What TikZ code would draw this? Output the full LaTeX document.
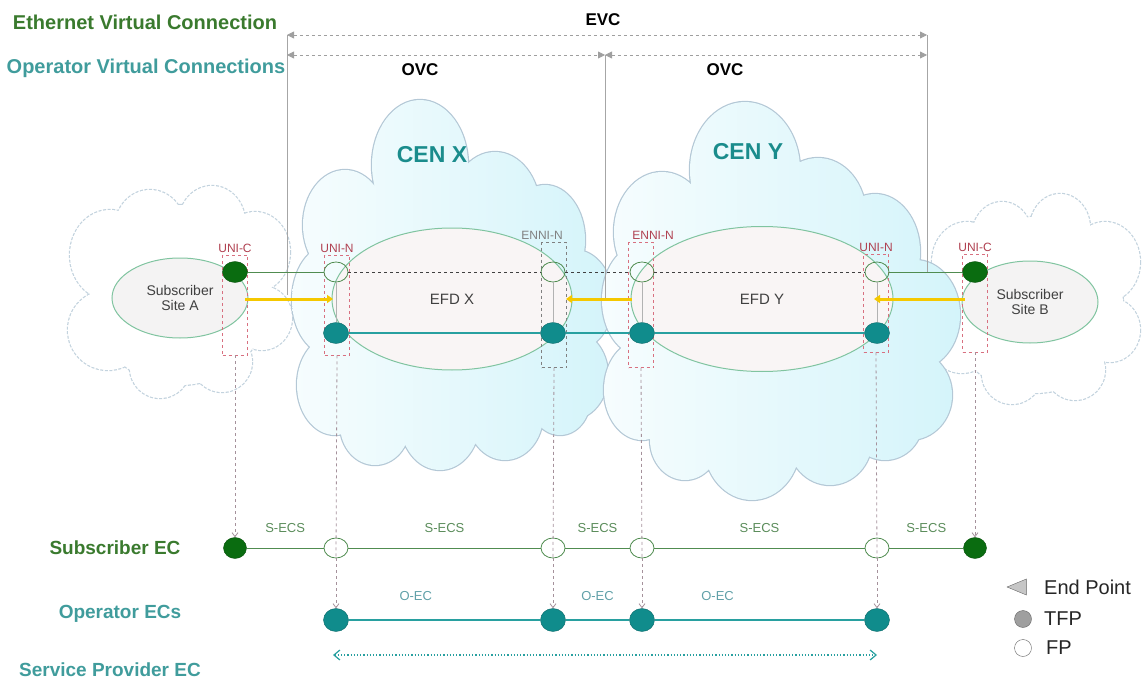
\documentclass[tikz,border=0pt]{standalone}
\usepackage{fontspec}
\setmainfont{Liberation Sans}
\usetikzlibrary{shapes.geometric, arrows.meta, positioning}
\definecolor{evcgreen}{RGB}{58,122,46}
\definecolor{ovcteal}{RGB}{64,156,156}
\definecolor{centeal}{RGB}{26,140,140}
\definecolor{unired}{RGB}{176,64,80}
\definecolor{tfpgreen}{RGB}{10,108,16}
\definecolor{tfpteal}{RGB}{16,140,140}
\definecolor{linegreen}{RGB}{80,140,80}
\definecolor{lineteal}{RGB}{40,160,160}
\definecolor{cloudcyan}{RGB}{212,244,250}
\definecolor{cloudedge}{RGB}{180,200,214}
\definecolor{sitefill}{RGB}{244,243,243}
\definecolor{efdfill}{RGB}{249,245,245}
\definecolor{efdedge}{RGB}{128,196,160}
\definecolor{linkyellow}{RGB}{245,200,0}
\definecolor{dropgray}{RGB}{165,145,155}
\definecolor{rectpink}{RGB}{216,112,128}
\definecolor{secgreen}{RGB}{90,140,90}
\definecolor{oecteal}{RGB}{96,160,168}

\def\subalist{180/295/90/90, 110/255/40/45, 150/228/35/38, 212/222/33/36, 255/252/35/40, 262/318/30/32, 108/330/40/40, 160/368/30/30, 222/362/30/30}
\def\subblist{1035/305/88/88, 967/262/35/40, 1002/236/30/34, 1060/228/30/34, 1105/262/35/40, 1110/330/30/32, 962/340/33/33, 1012/374/30/30, 1075/370/30/30}
\def\cenxlist{420/165/48/65, 345/225/42/55, 495/210/45/58, 545/240/40/55, 575/300/38/50, 570/375/38/45, 452/305/125/125, 330/300/38/55, 335/385/38/50, 375/425/35/40, 440/420/40/50, 505/415/38/45, 560/400/30/35}
\def\cenylist{745/170/55/68, 662/232/48/60, 818/215/48/57, 875/252/45/58, 915/315/45/55, 910/395/42/45, 775/320/148/145, 640/300/38/55, 642/390/38/50, 685/440/35/40, 752/445/48/55, 830/440/42/45, 885/420/38/40}

\begin{document}
\begin{tikzpicture}[
    x=1pt, y=-1pt,
    toplbl/.style={font=\fontsize{20}{21}\selectfont\bfseries},
    rowlbl/.style={font=\fontsize{19}{20}\selectfont\bfseries},
    spanarrow/.style={dashed, draw=gray!75, line width=0.8pt, {Triangle[length=7pt,width=7pt]}-{Triangle[length=7pt,width=7pt]}},
    vline/.style={draw=gray!70, line width=0.7pt},
    cenlbl/.style={font=\fontsize{23}{24}\selectfont\bfseries, text=centeal},
    site/.style={ellipse, draw=efdedge, line width=1pt, fill=sitefill, align=center, inner sep=0pt, font=\fontsize{14}{15}\selectfont, text=darkgray},
    tfp/.style={ellipse, draw=#1!75!black, fill=#1, minimum width=25pt, minimum height=21pt, inner sep=0pt},
    fp/.style={ellipse, draw=linegreen, line width=0.8pt, minimum width=24pt, minimum height=20pt, inner sep=0pt},
    iface/.style={draw=#1, dashed, line width=0.8pt, minimum width=25pt, inner sep=0pt},
    ifacelbl/.style={font=\fontsize{12}{12}\selectfont, text=#1, inner sep=1pt},
    sline/.style={draw=linegreen, line width=0.9pt},
    dline/.style={draw=darkgray, dashed, line width=0.8pt},
    tline/.style={draw=lineteal, line width=2.2pt},
    link/.style={draw=gray!60, line width=0.6pt},
    yarrow/.style={draw=linkyellow, line width=3pt, -{Triangle[length=6pt,width=8pt]}},
    drop/.style={draw=dropgray, dashed, line width=0.8pt},
    droparrow/.style={drop, -{Straight Barb[length=4pt,width=6pt]}},
    seglbl/.style={font=\fontsize{13}{13}\selectfont, text=#1},
    legtxt/.style={font=\fontsize{20}{20}\selectfont, text=black!85, inner sep=1pt}
]
    \useasboundingbox (0,0) rectangle (1144,682);

    % clouds (outline under, shading on top)
    \draw[cloudedge!80, line width=2.4pt, dash pattern=on 3pt off 1.5pt] foreach \cx/\cy/\rx/\ry in \subalist {(\cx,\cy) ellipse[x radius=\rx, y radius=\ry]};
    \fill[white] foreach \cx/\cy/\rx/\ry in \subalist {(\cx,\cy) ellipse[x radius=\rx, y radius=\ry]};
    \draw[cloudedge!80, line width=2.4pt, dash pattern=on 3pt off 1.5pt] foreach \cx/\cy/\rx/\ry in \subblist {(\cx,\cy) ellipse[x radius=\rx, y radius=\ry]};
    \fill[white] foreach \cx/\cy/\rx/\ry in \subblist {(\cx,\cy) ellipse[x radius=\rx, y radius=\ry]};
    \draw[cloudedge, line width=2.4pt] foreach \cx/\cy/\rx/\ry in \cenxlist {(\cx,\cy) ellipse[x radius=\rx, y radius=\ry]};
    \shade[left color=cloudcyan!20, right color=cloudcyan] foreach \cx/\cy/\rx/\ry in \cenxlist {(\cx,\cy) ellipse[x radius=\rx, y radius=\ry]};
    \draw[cloudedge, line width=2.4pt] foreach \cx/\cy/\rx/\ry in \cenylist {(\cx,\cy) ellipse[x radius=\rx, y radius=\ry]};
    \shade[left color=cloudcyan!20, right color=cloudcyan] foreach \cx/\cy/\rx/\ry in \cenylist {(\cx,\cy) ellipse[x radius=\rx, y radius=\ry]};

    \node[cenlbl] (cenx) at (432,155) {CEN X};
    \node[cenlbl] (ceny) at (748,152) {CEN Y};

    % connection spans
    \node[toplbl, text=evcgreen] (evclbl) at (145,22) {Ethernet Virtual Connection};
    \node[toplbl, text=ovcteal] (ovclbl) at (146,68) {Operator Virtual Connections};
    \coordinate (evcl) at (287,35);
    \coordinate (evcr) at (927,35);
    \coordinate (ovcl) at (287,55);
    \coordinate (ovcm) at (605,55);
    \coordinate (ovcr) at (927,55);
    \draw[vline] (evcl) -- ++(0,260);
    \draw[vline] (ovcm) -- ++(0,243);
    \draw[vline] (evcr) -- ++(0,237);
    \draw[spanarrow] (evcl) -- (evcr);
    \draw[spanarrow] (ovcl) -- (ovcm);
    \draw[spanarrow] (ovcm) -- (ovcr);
    \node[font=\fontsize{17}{17}\selectfont\bfseries] (evc) at (603,20) {EVC};
    \node[font=\fontsize{17}{17}\selectfont\bfseries] (ovcx) at (420,70) {OVC};
    \node[font=\fontsize{17}{17}\selectfont\bfseries] (ovcy) at (725,70) {OVC};

    % sites and EFDs
    \node[site, minimum width=136pt, minimum height=80pt] (sitea) at (180,298) {Subscriber\\Site A};
    \node[site, minimum width=136pt, minimum height=82pt] (siteb) at (1030,302) {Subscriber\\Site B};
    \node[site, fill=efdfill, minimum width=240pt, minimum height=142pt, font=\fontsize{15}{15}\selectfont] (efdx) at (452,299) {EFD X};
    \node[site, fill=efdfill, minimum width=262pt, minimum height=145pt, font=\fontsize{15}{15}\selectfont] (efdy) at (762,299) {EFD Y};

    % interfaces
    \node[iface=rectpink, minimum height=100pt] (rua) at (235,305) {};
    \node[iface=rectpink, minimum height=100pt] (rux) at (337,305) {};
    \node[iface=gray, minimum height=125pt] (rex) at (554,305) {};
    \node[iface=rectpink, minimum height=125pt] (rey) at (641,305) {};
    \node[iface=rectpink, minimum height=98pt] (ruy) at (876,303) {};
    \node[iface=rectpink, minimum height=98pt] (rub) at (975,303) {};
    \node[ifacelbl=unired, above=1pt of rua] {UNI-C};
    \node[ifacelbl=unired, above=1pt of rux] {UNI-N};
    \node[ifacelbl=gray, above=1pt of rex, xshift=-12pt] {ENNI-N};
    \node[ifacelbl=unired, above=1pt of rey, xshift=12pt] {ENNI-N};
    \node[ifacelbl=unired, above=1pt of ruy] {UNI-N};
    \node[ifacelbl=unired, above=1pt of rub] {UNI-C};

    % flow points
    \node[tfp=tfpgreen] (uca) at (235,272) {};
    \node[fp] (unx) at (336,272) {};
    \node[fp] (enx) at (553,272) {};
    \node[fp] (eny) at (642,272) {};
    \node[fp] (uny) at (877,272) {};
    \node[tfp=tfpgreen] (ucb) at (975,272) {};
    \node[tfp=tfpteal] (tnx) at (336,333) {};
    \node[tfp=tfpteal] (tex) at (553,333) {};
    \node[tfp=tfpteal] (tey) at (642,333) {};
    \node[tfp=tfpteal] (tny) at (877,333) {};

    \draw[sline] (uca) -- (unx);
    \draw[dline] (unx) -- (enx) -- (eny) -- (uny);
    \draw[sline] (uny) -- (ucb);
    \draw[tline] (tnx) -- (tex) -- (tey) -- (tny);
    \draw[link] (unx) -- (tnx);
    \draw[link] (enx) -- (tex);
    \draw[link] (eny) -- (tey);
    \draw[link] (uny) -- (tny);

    % links between sites and CENs
    \coordinate (ya1) at (245,299);
    \coordinate (ya2) at (333,299);
    \coordinate (yb1) at (566,299);
    \coordinate (yb2) at (632,299);
    \coordinate (yc1) at (874,299);
    \coordinate (yc2) at (965,299);
    \draw[yarrow] (ya1) -- (ya2);
    \draw[yarrow] (yb2) -- (yb1);
    \draw[yarrow] (yc2) -- (yc1);

    % Subscriber EC
    \node[rowlbl, text=evcgreen] (seclbl) at (115,548) {Subscriber EC};
    \node[tfp=tfpgreen, minimum width=23pt, minimum height=21pt] (sa) at (235,548) {};
    \node[fp] (sux) at (336,548) {};
    \node[fp] (sex) at (553,548) {};
    \node[fp] (sey) at (642,548) {};
    \node[fp] (suy) at (877,548) {};
    \node[tfp=tfpgreen, minimum width=23pt, minimum height=21pt] (sb) at (975,548) {};
    \draw[sline] (sa) -- node[midway, above=12pt, seglbl=secgreen] {S-ECS} (sux)
        -- node[midway, above=12pt, seglbl=secgreen] {S-ECS} (sex)
        -- node[midway, above=12pt, seglbl=secgreen] {S-ECS} (sey)
        -- node[midway, above=12pt, seglbl=secgreen] {S-ECS} (suy)
        -- node[midway, above=12pt, seglbl=secgreen] {S-ECS} (sb);

    % Operator ECs
    \node[rowlbl, text=ovcteal] (oeclbl) at (120,614) {Operator ECs};
    \node[tfp=tfpteal, minimum height=23pt] (oux) at (336,620) {};
    \node[tfp=tfpteal, minimum height=23pt] (oex) at (553,620) {};
    \node[tfp=tfpteal, minimum height=23pt] (oey) at (642,620) {};
    \node[tfp=tfpteal, minimum height=23pt] (ouy) at (877,620) {};
    \draw[tline] (oux) -- node[pos=0.35, above=15pt, seglbl=oecteal] {O-EC} (oex)
        -- node[midway, above=15pt, seglbl=oecteal] {O-EC} (oey)
        -- node[pos=0.3, above=15pt, seglbl=oecteal] {O-EC} (ouy);

    % drops
    \draw[droparrow] (rua.south) -- (sa.north);
    \draw[droparrow] (rub.south) -- (sb.north);
    \draw[drop] (rux.south) -- (sux.south);
    \draw[drop] (rex.south) -- (sex.south);
    \draw[drop] (rey.south) -- (sey.south);
    \draw[drop] (ruy.south) -- (suy.south);
    \draw[droparrow] (sux.south) -- (oux.north);
    \draw[droparrow] (sex.south) -- (oex.north);
    \draw[droparrow] (sey.south) -- (oey.north);
    \draw[droparrow] (suy.south) -- (ouy.north);

    % Service Provider EC
    \node[rowlbl, text=ovcteal] (speclbl) at (110,670) {Service Provider EC};
    \coordinate (spa) at (333,655);
    \coordinate (spb) at (877,655);
    \draw[draw=lineteal, line width=1.2pt, dotted, {Straight Barb[length=6pt,width=10pt]}-{Straight Barb[length=6pt,width=10pt]}] (spa) -- (spb);

    % legend
    \node[isosceles triangle, shape border rotate=180, draw=gray!80!black, fill=gray!45, minimum height=16pt, minimum width=16pt, inner sep=0pt] (lgep) at (1021,587) {};
    \node[legtxt, anchor=west] (lgeptxt) at (1043,587) {End Point};
    \node[circle, draw=gray!80!black, fill=gray!75, minimum size=17pt, inner sep=0pt] (lgtfp) at (1023,619) {};
    \node[legtxt, anchor=west] (lgtfptxt) at (1043,619) {TFP};
    \node[circle, draw=gray!80!black, fill=white, minimum size=17pt, inner sep=0pt] (lgfp) at (1023,648) {};
    \node[legtxt, anchor=west] (lgfptxt) at (1045,648) {FP};
\end{tikzpicture}
\end{document}
